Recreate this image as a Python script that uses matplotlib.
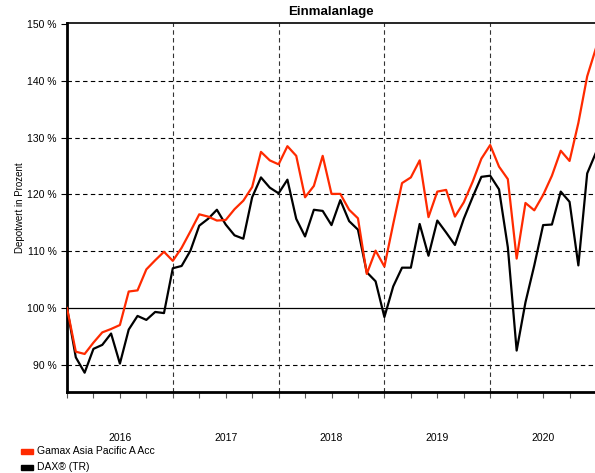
import matplotlib
matplotlib.use("Agg")
import matplotlib.pyplot as plt
from matplotlib.patches import Rectangle

plt.rcParams['font.family'] = ['Liberation Sans', 'DejaVu Sans']

# monthly values, Dec 2015 .. Dec 2020 (index 0..60)
gamax = [100.0, 92.3, 91.9, 93.9, 95.7, 96.3, 97.0, 102.9, 103.1, 106.8, 108.4, 109.9, 108.3,
         110.6, 113.5, 116.5, 116.1, 115.4, 115.5, 117.4, 118.9, 121.3, 127.5, 126.0, 125.3,
         128.5, 126.8, 119.5, 121.5, 126.8, 120.1, 120.1, 117.3, 115.8, 106.0, 110.1, 107.3,
         114.8, 122.0, 123.0, 126.0, 116.0, 120.5, 120.8, 116.1, 118.6, 122.2, 126.3, 128.7,
         124.9, 122.7, 108.7, 118.5, 117.2, 119.9, 123.3, 127.7, 125.9, 132.6, 140.8, 145.8]
dax = [100.0, 91.3, 88.6, 92.8, 93.5, 95.5, 90.2, 96.2, 98.6, 97.9, 99.3, 99.1, 107.0,
       107.4, 110.1, 114.5, 115.7, 117.3, 114.7, 112.8, 112.2, 119.5, 123.0, 121.2, 120.2,
       122.6, 115.7, 112.6, 117.3, 117.1, 114.6, 119.0, 115.3, 113.8, 106.3, 104.7, 98.4,
       103.8, 107.1, 107.1, 114.8, 109.2, 115.4, 113.3, 111.1, 115.7, 119.5, 123.1, 123.3,
       120.9, 110.7, 92.5, 101.0, 107.5, 114.6, 114.7, 120.5, 118.7, 107.5, 123.7, 127.4]
years = ["2016", "2017", "2018", "2019", "2020"]
y_ticks = [90, 100, 110, 120, 130, 140, 150]
labels = ["Gamax Asia Pacific A Acc", "DAX® (TR)"]
colors = ["#ff2a00", "#000000"]

months = list(range(len(gamax)))

fig = plt.figure(figsize=(5.95, 4.73), dpi=100)
ax = fig.add_axes([67 / 595, 81 / 473, 529 / 595, 369 / 473])

# grid lines
for v in y_ticks[:-1]:
    if v == 100:
        ax.axhline(v, color="black", lw=0.9, zorder=1)
    else:
        ax.axhline(v, color="black", lw=0.8, ls=(0, (4, 3)), zorder=1)
for m in [12, 24, 36, 48]:
    ax.axvline(m, color="#333333", lw=0.8, ls=(0, (4, 3)), zorder=1)

ax.plot(months, dax, color=colors[1], lw=1.6, zorder=3)
ax.plot(months, gamax, color=colors[0], lw=1.6, zorder=4)

ax.set_xlim(0, 60)
ax.set_ylim(85.2, 150.2)

ax.set_yticks(y_ticks)
ax.set_yticklabels([f"{v} %" for v in y_ticks], fontsize=7.5)
ax.set_xticks(range(0, 61, 3))
ax.set_xticklabels([])
ax.tick_params(axis="x", length=4, width=0.8, color="#555555")
ax.tick_params(axis="y", length=4, width=0.8)

# year labels centred in each year
for i, yr in enumerate(years):
    ax.text(6 + 12 * i, -0.125, yr, transform=ax.get_xaxis_transform(),
            ha="center", va="center", fontsize=7.5)

ax.spines["right"].set_visible(False)
ax.spines["left"].set_linewidth(2)
ax.spines["bottom"].set_linewidth(2)
ax.spines["top"].set_linewidth(1.2)

ax.set_ylabel("Depotwert in Prozent", fontsize=7)
ax.yaxis.set_label_coords(-0.08, 0.5)
fig.text(331 / 595, 1 - 12 / 473, "Einmalanlage", ha="center", va="center",
         fontsize=9.5, fontweight="bold")

# legend
for i, (lab, c) in enumerate(zip(labels, colors)):
    yy = 1 - (451 + 16 * i) / 473
    fig.patches.append(Rectangle((21 / 595, yy - 2.5 / 473), 12 / 595, 5 / 473,
                                 transform=fig.transFigure, color=c))
    fig.text(37 / 595, yy, lab, fontsize=7.5, va="center")

fig.savefig("out.png", dpi=100)
